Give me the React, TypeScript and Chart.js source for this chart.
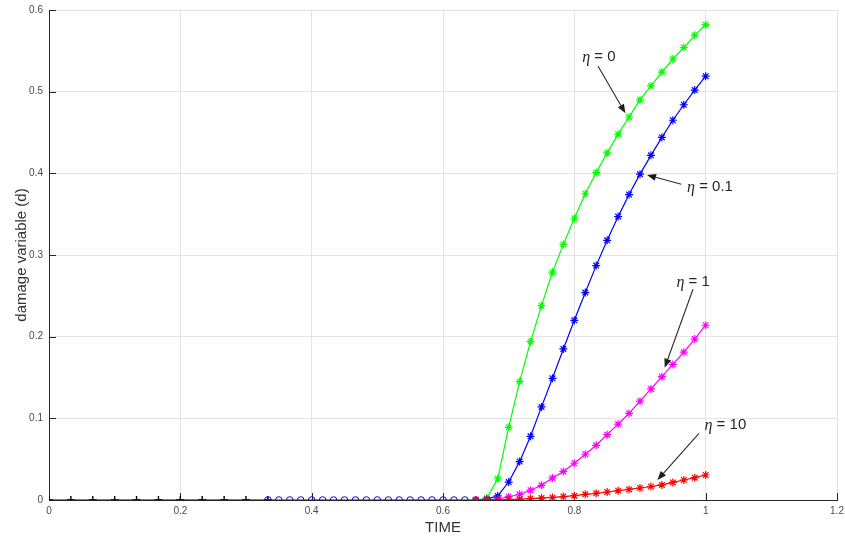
import React, { useEffect, useRef } from "react";
import { Chart, registerables } from "chart.js";

Chart.register(...registerables);

// ---- data ----
const timeLoading = [0, 0.0333, 0.0667, 0.1, 0.1333, 0.1667, 0.2, 0.2333, 0.2667, 0.3, 0.3333];
const damageLoading = [0, 0, 0, 0, 0, 0, 0, 0, 0, 0, 0];

const timeHold = [0.3333, 0.35, 0.3667, 0.3833, 0.4, 0.4167, 0.4333, 0.45, 0.4667, 0.4833, 0.5, 0.5167, 0.5333, 0.55, 0.5667, 0.5833, 0.6, 0.6167, 0.6333, 0.65];
const damageHold = [0, 0, 0, 0, 0, 0, 0, 0, 0, 0, 0, 0, 0, 0, 0, 0, 0, 0, 0, 0];

const timeDamage = [0.65, 0.6667, 0.6833, 0.7, 0.7167, 0.7333, 0.75, 0.7667, 0.7833, 0.8, 0.8167, 0.8333, 0.85, 0.8667, 0.8833, 0.9, 0.9167, 0.9333, 0.95, 0.9667, 0.9833, 1.0];
const dEta0 = [0, 0.002, 0.026, 0.089, 0.145, 0.194, 0.238, 0.279, 0.313, 0.345, 0.375, 0.401, 0.425, 0.448, 0.469, 0.49, 0.507, 0.524, 0.54, 0.554, 0.569, 0.582];
const dEta01 = [0, 0.001, 0.005, 0.022, 0.047, 0.078, 0.114, 0.149, 0.185, 0.22, 0.254, 0.287, 0.318, 0.347, 0.374, 0.399, 0.422, 0.444, 0.465, 0.484, 0.502, 0.519];
const dEta1 = [0, 0, 0.001, 0.004, 0.007, 0.012, 0.018, 0.027, 0.035, 0.045, 0.056, 0.067, 0.08, 0.093, 0.106, 0.121, 0.136, 0.151, 0.166, 0.181, 0.197, 0.214];
const dEta10 = [0, 0.0001, 0.0003, 0.0006, 0.0011, 0.0017, 0.0024, 0.0032, 0.0042, 0.0053, 0.007, 0.0082, 0.0098, 0.0114, 0.013, 0.0147, 0.0165, 0.0185, 0.0215, 0.0245, 0.0273, 0.0306];

const xTicks = [0, 0.2, 0.4, 0.6, 0.8, 1.0, 1.2];
const xTickLabels = ["0", "0.2", "0.4", "0.6", "0.8", "1", "1.2"];
const yTicks = [0, 0.1, 0.2, 0.3, 0.4, 0.5, 0.6];
const yTickLabels = ["0", "0.1", "0.2", "0.3", "0.4", "0.5", "0.6"];

// annotations (data coordinates)
const noteValues = ["0", "0.1", "1", "10"];
const noteX = [0.8374, 1.0066, 0.981, 1.03];
const noteY = [0.5428, 0.3836, 0.2673, 0.0918];
const tailX = [0.836, 0.963, 0.9807, 0.9898];
const tailY = [0.5314, 0.3866, 0.258, 0.0817];
const headX = [0.8778, 0.9107, 0.9376, 0.9265];
const headY = [0.4735, 0.398, 0.162, 0.0245];

const SANS = "'Liberation Sans', Arial, Helvetica, sans-serif";
const SERIF = "'Liberation Serif', 'Times New Roman', serif";

const pts = (xs: number[], ys: number[]) => xs.map((x, i) => ({ x, y: ys[i] }));

const inwardTicks = {
  id: "inwardTicks",
  beforeDatasetsDraw(chart: any) {
    const { ctx, scales, chartArea } = chart;
    const xs = scales.x, ys = scales.y;
    const len = 7;
    ctx.save();
    ctx.strokeStyle = "#262626";
    ctx.lineWidth = 1;
    ctx.beginPath();
    xTicks.forEach((v) => {
      const px = Math.round(xs.getPixelForValue(v)) + 0.5;
      ctx.moveTo(px, chartArea.bottom);
      ctx.lineTo(px, chartArea.bottom - len);
    });
    yTicks.forEach((v) => {
      const py = Math.round(ys.getPixelForValue(v)) + 0.5;
      ctx.moveTo(chartArea.left, py);
      ctx.lineTo(chartArea.left + len, py);
    });
    ctx.stroke();
    ctx.restore();
  },
};

const etaNotes = {
  id: "etaNotes",
  afterDatasetsDraw(chart: any) {
    const { ctx, scales } = chart;
    const xs = scales.x, ys = scales.y;
    ctx.save();
    noteValues.forEach((val, i) => {
      const x0 = xs.getPixelForValue(tailX[i]);
      const y0 = ys.getPixelForValue(tailY[i]);
      const x1 = xs.getPixelForValue(headX[i]);
      const y1 = ys.getPixelForValue(headY[i]);
      const a = Math.atan2(y1 - y0, x1 - x0);
      const hl = 9, hw = 3.5;
      const c = Math.cos(a), s = Math.sin(a);
      ctx.strokeStyle = "#2b2b2b";
      ctx.fillStyle = "#1a1a1a";
      ctx.lineWidth = 1.1;
      ctx.beginPath();
      ctx.moveTo(x0, y0);
      ctx.lineTo(x1 - hl * c, y1 - hl * s);
      ctx.stroke();
      ctx.beginPath();
      ctx.moveTo(x1, y1);
      ctx.lineTo(x1 - hl * c + hw * s, y1 - hl * s - hw * c);
      ctx.lineTo(x1 - hl * c - hw * s, y1 - hl * s + hw * c);
      ctx.closePath();
      ctx.fill();

      // text: italic eta + " = value"
      const cx = xs.getPixelForValue(noteX[i]);
      const cy = ys.getPixelForValue(noteY[i]);
      const etaFont = `italic 16px ${SERIF}`;
      const restFont = `15px ${SANS}`;
      const rest = " = " + val;
      ctx.font = etaFont;
      const w1 = ctx.measureText("\u03b7").width;
      ctx.font = restFont;
      const w2 = ctx.measureText(rest).width;
      const sx = cx - (w1 + w2) / 2;
      ctx.textBaseline = "middle";
      ctx.textAlign = "left";
      ctx.fillStyle = "#262626";
      ctx.font = etaFont;
      ctx.fillText("\u03b7", sx, cy + 1);
      ctx.font = restFont;
      ctx.fillText(rest, sx + w1, cy);
    });
    ctx.restore();
  },
};

export default function App() {
  const ref = useRef<HTMLCanvasElement>(null);

  useEffect(() => {
    if (!ref.current) return;
    const n = 6;
    const star = (label: string, data: number[], color: string, idx: number) => ({
      label,
      data: pts(timeDamage, data),
      borderColor: color,
      backgroundColor: color,
      borderWidth: 1.2,
      pointStyle: "star",
      pointRadius: 4,
      pointBorderWidth: 1.2,
      pointBorderColor: color,
      pointBackgroundColor: color,
      tension: 0,
      order: n - idx,
    });
    const chart = new Chart(ref.current, {
      type: "line",
      data: {
        datasets: [
          {
            label: "loading",
            data: pts(timeLoading, damageLoading),
            borderColor: "#000000",
            backgroundColor: "#000000",
            borderWidth: 1.2,
            pointStyle: "cross",
            pointRadius: 4,
            pointBorderWidth: 1.4,
            pointBorderColor: "#000000",
            tension: 0,
            order: n - 0,
          },
          {
            label: "hold",
            data: pts(timeHold, damageHold),
            borderColor: "#0000ff",
            backgroundColor: "rgba(0,0,0,0)",
            borderWidth: 1.2,
            pointStyle: "circle",
            pointRadius: 3.3,
            pointBorderWidth: 1,
            pointBorderColor: "#0000ff",
            pointBackgroundColor: "rgba(0,0,0,0)",
            tension: 0,
            order: n - 1,
          },
          star("eta = 0", dEta0, "#00ff00", 2),
          star("eta = 0.1", dEta01, "#0000ff", 3),
          star("eta = 1", dEta1, "#ff00ff", 4),
          star("eta = 10", dEta10, "#ff0000", 5),
        ] as any,
      },
      options: {
        animation: false,
        responsive: false,
        devicePixelRatio: 1,
        layout: { padding: { top: 10, right: 8, left: 0, bottom: 0 } },
        plugins: {
          legend: { display: false },
          tooltip: { enabled: false },
        },
        scales: {
          x: {
            type: "linear",
            min: 0,
            max: 1.2,
            afterBuildTicks: (a: any) => {
              a.ticks = xTicks.map((v) => ({ value: v }));
            },
            afterFit: (a: any) => {
              a.height = 41;
              a.paddingLeft = 0;
              a.paddingRight = 0;
            },
            ticks: {
              callback: (_v: any, i: number) => xTickLabels[i],
              font: { family: SANS, size: 10 },
              color: "#4a4a4a",
              padding: 5,
              maxRotation: 0,
              autoSkip: false,
            },
            grid: { color: "#e3e3e3", drawTicks: false, lineWidth: 1 },
            border: { color: "#262626", width: 1 },
            title: {
              display: true,
              text: "TIME",
              font: { family: SANS, size: 15 },
              color: "#333333",
              padding: { top: 0, bottom: 4 },
            },
          },
          y: {
            type: "linear",
            min: 0,
            max: 0.6,
            afterBuildTicks: (a: any) => {
              a.ticks = yTicks.map((v) => ({ value: v }));
            },
            afterFit: (a: any) => {
              a.width = 49;
              a.paddingTop = 0;
              a.paddingBottom = 0;
            },
            ticks: {
              callback: (_v: any, i: number) => yTickLabels[i],
              font: { family: SANS, size: 10 },
              color: "#4a4a4a",
              padding: 6,
              autoSkip: false,
            },
            grid: { color: "#e3e3e3", drawTicks: false, lineWidth: 1 },
            border: { color: "#262626", width: 1 },
            title: {
              display: true,
              text: "damage variable (d)",
              font: { family: SANS, size: 15 },
              color: "#333333",
              padding: { top: 13, bottom: 0 },
            },
          },
        },
      } as any,
      plugins: [inwardTicks, etaNotes],
    });
    return () => chart.destroy();
  }, []);

  return (
    <div style={{ position: "fixed", left: 0, top: 0, width: 845, height: 541, background: "#ffffff" }}>
      <canvas ref={ref} width={845} height={541} style={{ display: "block", width: 845, height: 541 }} />
    </div>
  );
}
